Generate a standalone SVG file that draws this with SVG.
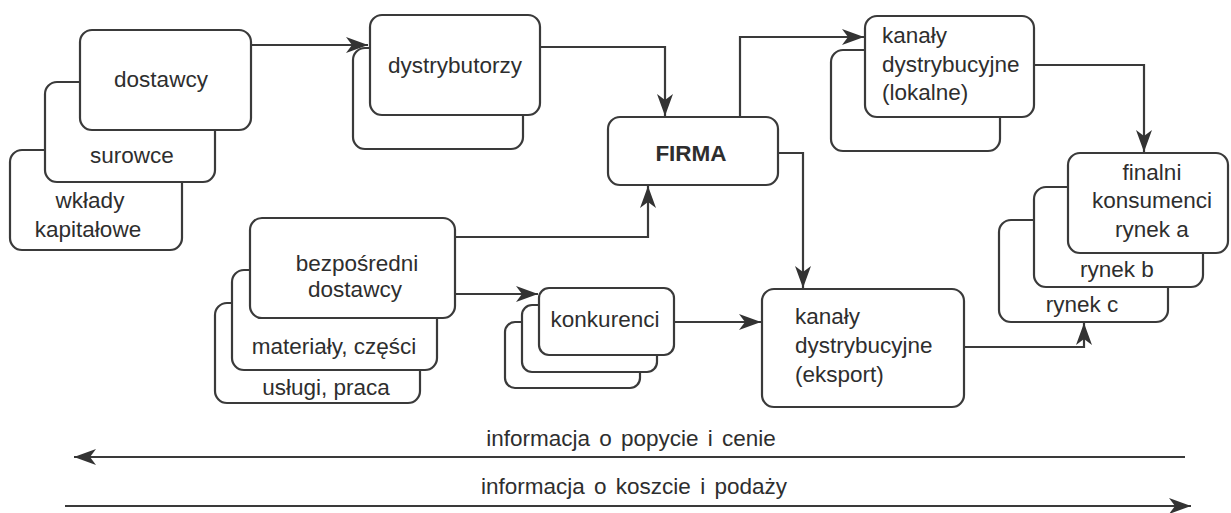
<svg xmlns="http://www.w3.org/2000/svg" width="1231" height="513" viewBox="0 0 1231 513">
<style>
.b{fill:#fff;stroke:#3a3a3a;stroke-width:2.2}
.t{font-family:"Liberation Sans",Arial,sans-serif;font-size:22.5px;fill:#2e2e2e}
.m{text-anchor:middle}
.bold{font-weight:bold}
.c{fill:none;stroke:#3a3a3a;stroke-width:2.2}
</style>
<defs>
<marker id="ah" markerUnits="userSpaceOnUse" markerWidth="24" markerHeight="18" refX="22" refY="9" orient="auto">
<path d="M0,1 L22,9 L0,17 L6,9 z" fill="#333"/>
</marker>
</defs>
<rect width="1231" height="513" fill="#fff"/>
<g id="connectors">
<path class="c" d="M251,45 H368" marker-end="url(#ah)"/>
<path class="c" d="M540,47 H665 V116" marker-end="url(#ah)"/>
<path class="c" d="M740,117 V37 H864" marker-end="url(#ah)"/>
<path class="c" d="M455,237 H648 V186" marker-end="url(#ah)"/>
<path class="c" d="M778,153 H803 V288" marker-end="url(#ah)"/>
<path class="c" d="M1034,65 H1144 V152" marker-end="url(#ah)"/>
<path class="c" d="M455,294 H538" marker-end="url(#ah)"/>
<path class="c" d="M674,322 H761" marker-end="url(#ah)"/>
<path class="c" d="M964,347 H1084 V323" marker-end="url(#ah)"/>
<path class="c" d="M1185,457 H74" marker-end="url(#ah)"/>
<path class="c" d="M65,506 H1191" marker-end="url(#ah)"/>
</g>
<g id="dostawcy">
<rect class="b" x="10" y="150" width="172" height="100" rx="12"/>
<rect class="b" x="45" y="82" width="170" height="100" rx="12"/>
<rect class="b" x="80" y="30" width="171" height="100" rx="12"/>
<text class="t m" x="161" y="87">dostawcy</text>
<text class="t m" x="132" y="163">surowce</text>
<text class="t m" x="90" y="208">wkłady</text>
<text class="t m" x="88" y="237">kapitałowe</text>
</g>
<g id="dystrybutorzy">
<rect class="b" x="353" y="48" width="170" height="101" rx="12"/>
<rect class="b" x="370" y="15" width="170" height="100" rx="12"/>
<text class="t m" x="455" y="73">dystrybutorzy</text>
</g>
<g id="firma">
<rect class="b" x="608" y="117" width="170" height="68" rx="12"/>
<text class="t m bold" x="691" y="161">FIRMA</text>
</g>
<g id="kanaly-lokalne">
<rect class="b" x="831" y="50" width="169" height="101" rx="12"/>
<rect class="b" x="865" y="16" width="169" height="101" rx="12"/>
<text class="t" x="882" y="43">kanały</text>
<text class="t" x="882" y="72">dystrybucyjne</text>
<text class="t" x="882" y="100">(lokalne)</text>
</g>
<g id="finalni-konsumenci">
<rect class="b" x="999" y="220" width="169" height="102" rx="12"/>
<rect class="b" x="1034" y="187" width="169" height="100" rx="12"/>
<rect class="b" x="1068" y="153" width="160" height="100" rx="12"/>
<text class="t m" x="1152" y="180">finalni</text>
<text class="t m" x="1152" y="208">konsumenci</text>
<text class="t m" x="1152" y="237">rynek a</text>
<text class="t m" x="1117" y="277">rynek b</text>
<text class="t m" x="1082" y="312">rynek c</text>
</g>
<g id="bezposredni-dostawcy">
<rect class="b" x="215" y="303" width="205" height="100" rx="12"/>
<rect class="b" x="232" y="270" width="205" height="100" rx="12"/>
<rect class="b" x="250" y="218" width="205" height="100" rx="12"/>
<text class="t m" x="357" y="271">bezpośredni</text>
<text class="t m" x="355" y="297">dostawcy</text>
<text class="t m" x="334" y="354">materiały, części</text>
<text class="t m" x="326" y="395">usługi, praca</text>
</g>
<g id="konkurenci">
<rect class="b" x="505" y="322" width="135" height="66" rx="10"/>
<rect class="b" x="522" y="305" width="135" height="67" rx="10"/>
<rect class="b" x="539" y="288" width="135" height="67" rx="10"/>
<text class="t m" x="605" y="327">konkurenci</text>
</g>
<g id="kanaly-eksport">
<rect class="b" x="762" y="289" width="202" height="118" rx="12"/>
<text class="t" x="795" y="324">kanały</text>
<text class="t" x="795" y="353">dystrybucyjne</text>
<text class="t" x="795" y="382">(eksport)</text>
</g>
<g id="info-labels">
<text class="t m" x="631" y="446" word-spacing="3">informacja o popycie i cenie</text>
<text class="t m" x="634" y="494" word-spacing="3">informacja o koszcie i podaży</text>
</g>
</svg>
